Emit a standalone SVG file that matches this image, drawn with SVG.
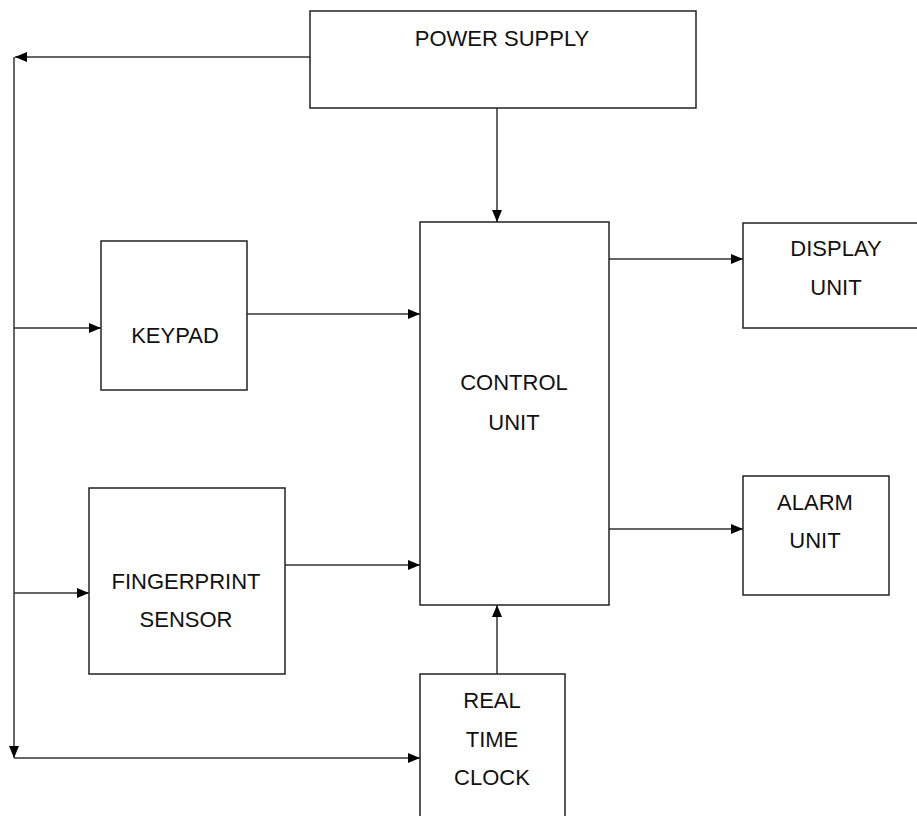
<svg xmlns="http://www.w3.org/2000/svg" width="917" height="816" viewBox="0 0 917 816">
<defs>
<marker id="ah" markerWidth="12" markerHeight="10" refX="12" refY="5" orient="auto" markerUnits="userSpaceOnUse">
<path d="M0,0 L12,5 L0,10 Z" fill="#000"/>
</marker>
<style>
.box{fill:#fff;stroke:#222;stroke-width:1.5}
.arr{fill:none;stroke:#333;stroke-width:1.5;marker-end:url(#ah)}
text{font-family:"Liberation Sans",Arial,sans-serif;font-size:22px;fill:#111;text-anchor:middle}
</style>
</defs>
<rect width="917" height="816" fill="#fff"/>
<g id="connectors">
<path class="arr" d="M310,57 L15,57"/>
<path class="arr" d="M14,57 L14,758"/>
<path class="arr" d="M14,758 L420,758"/>
<path class="arr" d="M14,328 L101,328"/>
<path class="arr" d="M14,593 L89,593"/>
<path class="arr" d="M247,314 L420,314"/>
<path class="arr" d="M285,565 L420,565"/>
<path class="arr" d="M497,108 L497,222"/>
<path class="arr" d="M497,674 L497,605"/>
<path class="arr" d="M609,259 L743,259"/>
<path class="arr" d="M609,529 L743,529"/>
</g>
<g id="power-supply">
<rect class="box" x="310" y="11" width="386" height="97"/>
<text x="502" y="46">POWER SUPPLY</text>
</g>
<g id="keypad">
<rect class="box" x="101" y="241" width="146" height="149"/>
<text x="175" y="343">KEYPAD</text>
</g>
<g id="fingerprint-sensor">
<rect class="box" x="89" y="488" width="196" height="186"/>
<text x="186" y="589">FINGERPRINT</text>
<text x="186" y="627">SENSOR</text>
</g>
<g id="control-unit">
<rect class="box" x="420" y="222" width="189" height="383"/>
<text x="514" y="390">CONTROL</text>
<text x="514" y="430">UNIT</text>
</g>
<g id="display-unit">
<rect class="box" x="743" y="223" width="180" height="105"/>
<text x="836" y="256">DISPLAY</text>
<text x="836" y="295">UNIT</text>
</g>
<g id="alarm-unit">
<rect class="box" x="743" y="476" width="146" height="119"/>
<text x="815" y="510">ALARM</text>
<text x="815" y="548">UNIT</text>
</g>
<g id="real-time-clock">
<rect class="box" x="420" y="674" width="145" height="160"/>
<text x="492" y="708">REAL</text>
<text x="492" y="747">TIME</text>
<text x="492" y="785">CLOCK</text>
</g>
</svg>
